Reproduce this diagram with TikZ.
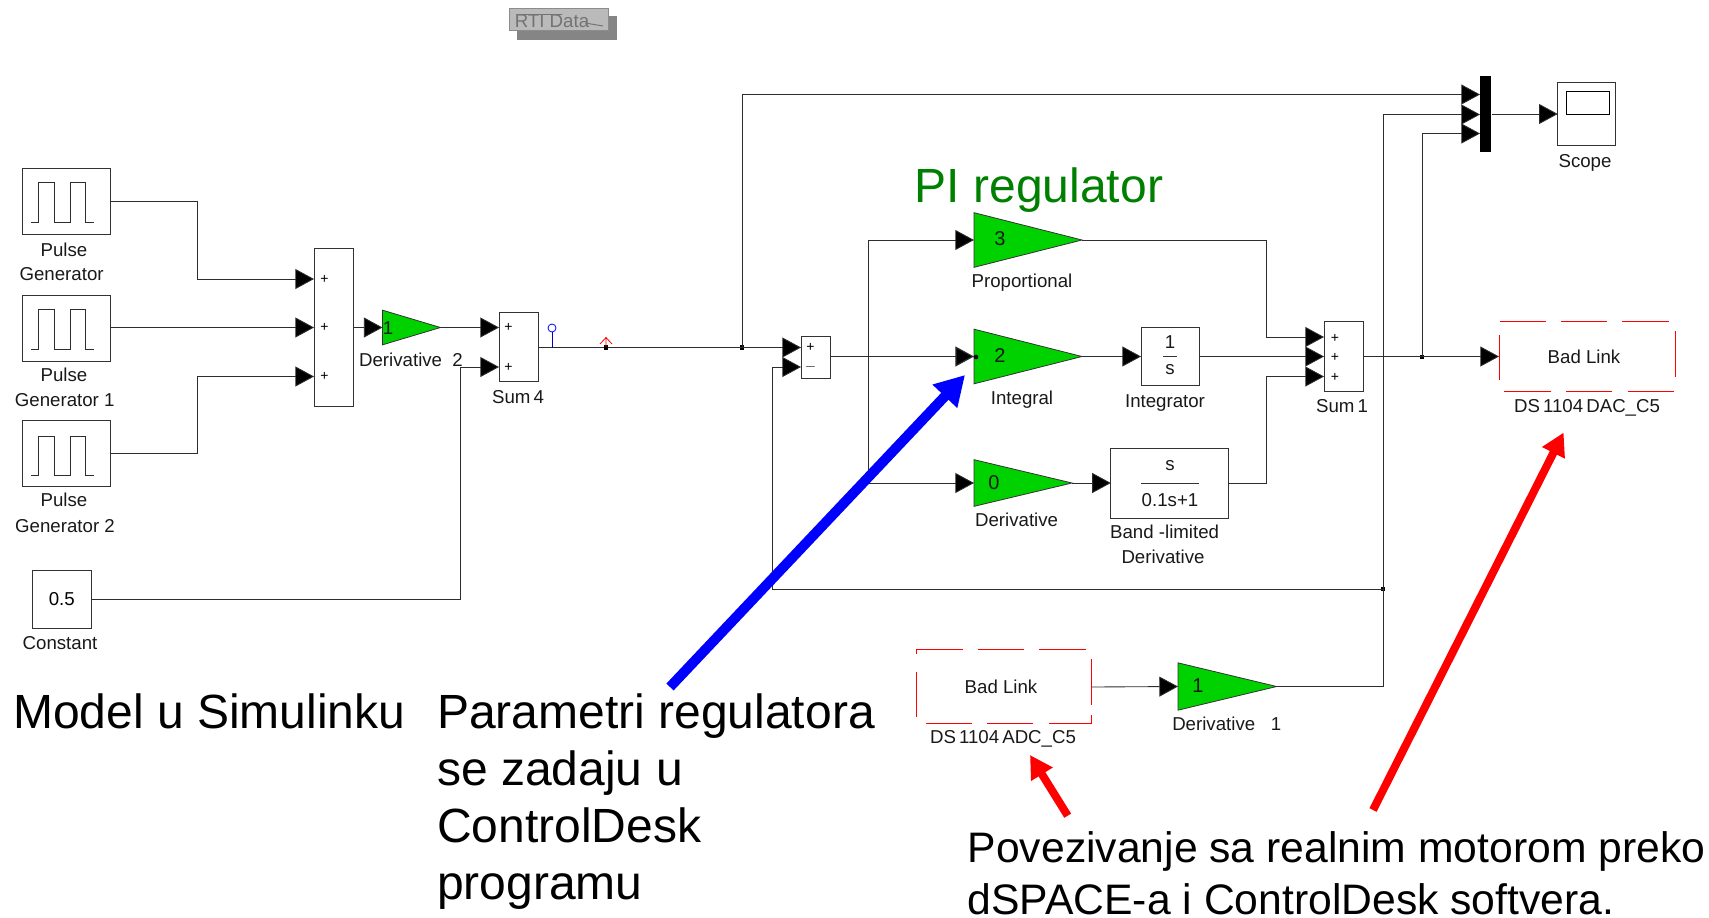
\documentclass[tikz,border=0pt]{standalone}
\usepackage{fontspec}
\setmainfont{Liberation Sans}
\usetikzlibrary{arrows.meta,shapes.geometric}
\definecolor{gaingreen}{RGB}{0,210,0}
\definecolor{pigreen}{RGB}{0,128,0}
\definecolor{wirec}{RGB}{45,45,45}
\tikzset{
  x=0.75pt,y=-0.75pt,
  wire/.style={draw=wirec,line width=0.65pt},
  wirearrow/.style={wire,-{Triangle[length=14pt,width=15pt,fill=black]}},
  block/.style={draw=black!80,line width=0.7pt,fill=white,rectangle,inner sep=0pt,outer sep=0pt,font=\fontsize{14}{14}\selectfont,text height=10pt,text depth=0pt},
  gain/.style={draw=black!80,line width=0.6pt,fill=gaingreen,isosceles triangle,isosceles triangle stretches,inner sep=0pt,outer sep=0pt,anchor=west,shape border rotate=0},
  lab/.style={font=\fontsize{14}{14}\selectfont,inner sep=0pt,text=black!90,text height=10pt,text depth=0pt},
  sign/.style={font=\fontsize{10.5}{10.5}\selectfont,inner sep=0pt},
  bigtext/.style={font=\fontsize{36}{36}\selectfont,inner sep=0pt,anchor=base west},
  capsmall/.style={font=\fontsize{32}{32}\selectfont,inner sep=0pt,anchor=base west},
  juncbox/.style={fill=black,inner sep=0pt,minimum size=3.6pt,rectangle},
  badedge/.style={draw=red,line width=0.75pt},
}
\begin{document}
\begin{tikzpicture}
\useasboundingbox (0,0) rectangle (1709,917);
% RTI Data
\node[fill=black!48,inner sep=0pt,minimum width=75pt,minimum height=18pt] (rtishadow) at (567,28) {};
\node[draw=black!45,fill=black!27,line width=0.7pt,inner sep=0pt,minimum width=74.5pt,minimum height=16.8pt] (rtibox) at (559,19.5) {};
\node[text=black!55,font=\fontsize{14}{14}\selectfont,inner sep=0pt,text height=10pt,text depth=0pt] (rti) at (552,20.5) {RTI Data};
\coordinate (rs1) at (516,14.5);
\coordinate (rs2) at (562,14.5);
\coordinate (rs3) at (585,23);
\coordinate (rs4) at (603,26);
\draw[black!55,line width=0.7pt] (rs1) -- (rs2) (rs3) -- (rs4);
% Pulse generators
\foreach \n/\yc/\wc in {pga/201/201,pgb/328/328,pgc/453/454.5}{
  \node[block,minimum width=66pt,minimum height=49.5pt] (\n) at (66,\yc) {};
  \draw[draw=wirec,line width=0.6pt] (31,\wc+21) -- (38.4,\wc+21) -- (38.4,\wc-18.5) -- (54.5,\wc-18.5) -- (54.5,\wc+21) -- (70.5,\wc+21) -- (70.5,\wc-18.5) -- (85.7,\wc-18.5) -- (85.7,\wc+21) -- (94,\wc+21);
}
\node[lab] (pgal1) at (64,250) {Pulse};
\node[lab] (pgal2) at (61.6,274) {Generator};
\node[lab] (pgbl1) at (64,375) {Pulse};
\node[lab] (pgbl2) at (64.7,400) {Generator 1};
\node[lab] (pgcl1) at (64,500) {Pulse};
\node[lab] (pgcl2) at (65,525.5) {Generator 2};
% Constant
\node[block,minimum width=44.25pt,minimum height=43.5pt] (const) at (61.8,599.3) {0.5};
\node[lab] (constl) at (60,642.7) {Constant};
% Sum 3 inputs
\node[block,minimum width=29.6pt,minimum height=119pt] (suma) at (334,327.5) {};
\coordinate (sa1) at (314,279);
\coordinate (sa2) at (314,327.5);
\coordinate (sa3) at (314,376.5);
\node[sign] (sap1) at (324.5,279) {+};
\node[sign] (sap2) at (324.5,327.5) {+};
\node[sign] (sap3) at (324.5,376) {+};
\coordinate (ba1) at (197,279);
\coordinate (ba3) at (197,376.5);
\draw[wire] (pga.east) -| (ba1);
\draw[wirearrow] (ba1) -- (sa1);
\draw[wirearrow] (pgb.east |- sa2) -- (sa2);
\draw[wire] (pgc.east) -| (ba3);
\draw[wirearrow] (ba3) -- (sa3);
% Derivative 2
\node[gain,minimum height=43.5pt,minimum width=26pt] (gd2) at (382.5,327.5) {};
\node[lab] (gd2v) at (388,327.5) {1};
\node[lab] (gd2l) at (411,360) {Derivative\ \ 2};
\draw[wirearrow] (suma.east |- gd2.west) -- (gd2.west);
% Sum 4
\node[block,minimum width=29.6pt,minimum height=52pt] (sumb) at (518.7,347) {};
\node[sign] (sbp1) at (508.5,327.5) {+};
\node[sign] (sbp2) at (508.5,367) {+};
\node[lab] (sumbl) at (518,397) {Sum\,4};
\coordinate (sb1) at (499,327.5);
\coordinate (sb2) at (499,367);
\draw[wirearrow] (gd2.apex) -- (sb1);
\coordinate (bc) at (460,367);
\draw[wire] (const.east) -| (bc);
\draw[wirearrow] (bc) -- (sb2);
% Line to difference
\node[block,minimum width=22pt,minimum height=31.5pt] (sumc) at (816,357) {};
\node[sign] (scp1) at (810.5,347) {+};
\node[sign] (scp2) at (810.5,367) {\(-\)};
\coordinate (sc1) at (801,347.5);
\coordinate (sc2) at (801,367);
\node[juncbox] (j1) at (742,347.5) {};
\draw[wirearrow] (sumb.east |- sc1) -- (sc1);
\node[juncbox] (jred) at (606,347.5) {};
\coordinate (blues) at (552,347.5);
\node[draw=blue,line width=0.6pt,circle,inner sep=0pt,minimum size=6pt] (bluec) at (552,328) {};
\draw[blue!80!black,line width=0.6pt] (blues) -- (bluec.south);
\coordinate (reds) at (606,347);
\coordinate (redt) at (606,337.5);
\coordinate (redl) at (600,344);
\coordinate (redr) at (612,344);
\draw[red,line width=0.6pt] (reds) -- (redt) (redl) -- (redt) -- (redr);
% Mux and scope
\node[fill=black,inner sep=0pt,minimum width=8.5pt,minimum height=56.5pt] (mux) at (1485.7,114) {};
\coordinate (m1) at (1480,94.5);
\coordinate (m2) at (1480,114.5);
\coordinate (m3) at (1480,133.5);
\coordinate (t1) at (742,94.5);
\draw[wire] (j1.center) -- (t1);
\draw[wirearrow] (t1) -- (m1);
\node[block,minimum width=43.5pt,minimum height=47pt] (scope) at (1586.7,114) {};
\node[draw=black,line width=0.7pt,inner sep=0pt,minimum width=31.7pt,minimum height=17.5pt] (scopei) at (1588,103) {};
\node[lab] (scopel) at (1585,160.7) {Scope};
\draw[wirearrow] (mux.east |- scope.west) -- (scope.west);
% PI regulator
\node[text=pigreen,font=\fontsize{36}{36}\selectfont,inner sep=0pt] (pit) at (1039,190) {PI regulator};
\node[gain,minimum height=81pt,minimum width=41pt] (gp) at (974,240) {};
\node[lab,font=\fontsize{15}{15}\selectfont] (gpv) at (1000,239) {3};
\node[lab] (gpl) at (1022,281) {Proportional};
\node[gain,minimum height=81pt,minimum width=41pt] (gi) at (974,356.5) {};
\node[lab,font=\fontsize{15}{15}\selectfont] (giv) at (1000,356) {2};
\node[lab] (gil) at (1022,397.5) {Integral};
\node[gain,minimum height=73.5pt,minimum width=35pt] (gdr) at (974,483) {};
\node[lab,font=\fontsize{15}{15}\selectfont] (gdrv) at (994,483) {0};
\node[lab] (gdrl) at (1016.6,520) {Derivative};
\node[block,minimum width=43.5pt,minimum height=44pt] (integ) at (1170,356.5) {};
\node[lab] (integn) at (1170,342) {1};
\node[lab] (integd) at (1170,368) {s};
\coordinate (ibl) at (1163,356.5);
\coordinate (ibr) at (1177,356.5);
\draw[black!80,line width=0.7pt] (ibl) -- (ibr);
\node[lab] (integl) at (1165,401) {Integrator};
\node[block,minimum width=88pt,minimum height=52.5pt] (band) at (1169.5,483) {};
\node[lab] (bandn) at (1170,464) {s};
\node[lab] (bandd) at (1170,500) {0.1s+1};
\coordinate (bbl) at (1141,483);
\coordinate (bbr) at (1199,483);
\draw[black!80,line width=0.7pt] (bbl) -- (bbr);
\node[lab] (bandl1) at (1164.6,531.5) {Band -limited};
\node[lab] (bandl2) at (1163,556.5) {Derivative};
\node[block,minimum width=29.6pt,minimum height=52.5pt] (sumd) at (1343.7,356.5) {};
\node[sign] (sdp1) at (1335,338) {+};
\node[sign] (sdp2) at (1335,357) {+};
\node[sign] (sdp3) at (1335,377) {+};
\node[lab] (sumdl) at (1342,406) {Sum\,1};
\coordinate (sd1) at (1324,337);
\coordinate (sd2) at (1324,356.5);
\coordinate (sd3) at (1324,376.5);
% PI wiring
\coordinate (v1) at (868.6,240);
\coordinate (v3) at (868.6,483);
\draw[wirearrow,line width=0.9pt] (sumc.east |- gi.west) -- (gi.west);
\draw[wire] (v3) -- (v1);
\draw[wirearrow] (v1) -- (gp.west);
\draw[wirearrow] (v3) -- (gdr.west);
\node[fill=black,circle,inner sep=0pt,minimum size=3.5pt] (jgi) at (976,357) {};
\draw[wirearrow] (gi.apex) -- (integ.west);
\draw[wirearrow] (gdr.apex) -- (band.west);
\coordinate (w1) at (1266,337);
\coordinate (w3) at (1266,376.5);
\draw[wire] (gp.apex) -| (w1);
\draw[wirearrow] (w1) -- (sd1);
\draw[wirearrow] (integ.east) -- (sd2);
\draw[wire] (band.east) -| (w3);
\draw[wirearrow] (w3) -- (sd3);
% Bad Link DAC
\coordinate (dacw) at (1499,356.5);
\node[lab] (dact) at (1584,356.5) {Bad Link};
\node[lab] (dacl) at (1587,406) {DS\,1104\,DAC\_C5};
\draw[badedge] (1500,321) -- (1546,321) (1561,321) -- (1607,321) (1622,321) -- (1668.5,321);
\draw[badedge] (1504,391) -- (1551,391) (1566,391) -- (1612,391) (1628,391) -- (1674,391);
\draw[badedge] (1499,334.5) -- (1499,380);
\draw[badedge] (1675,331) -- (1675,377);
\node[juncbox,minimum size=3pt] (j2) at (1422,356.5) {};
\draw[wirearrow] (sumd.east) -- (dacw);
\coordinate (m3b) at (1422,133.5);
\draw[wire] (j2.center) -- (m3b);
\draw[wirearrow] (m3b) -- (m3);
% Feedback
\coordinate (fb1) at (772,367);
\coordinate (fb2) at (772,589);
\node[juncbox,minimum size=3pt] (j3) at (1383,589) {};
\draw[wirearrow] (fb1) -- (sc2);
\draw[wire] (fb1) -- (fb2) -- (j3.center);
% Bad Link ADC
\node[lab] (adct) at (1001,687) {Bad Link};
\node[lab] (adcl) at (1003,736.7) {DS\,1104\,ADC\_C5};
\draw[badedge] (916,654) -- (916,649) -- (962.7,649) (978,649) -- (1024,649) (1039,649) -- (1085.7,649);
\draw[badedge] (925.7,723.3) -- (971.7,723.3) (987,723.3) -- (1033,723.3) (1049,723.3) -- (1091.7,723.3) -- (1091.7,715);
\draw[badedge] (916,671.7) -- (916,717);
\draw[badedge] (1091.7,659) -- (1091.7,705);
\coordinate (adce) at (1091.7,687);
\node[gain,minimum height=74pt,minimum width=35.5pt] (gd1) at (1178,686.5) {};
\node[lab,font=\fontsize{15}{15}\selectfont] (gd1v) at (1198,686) {1};
\node[lab] (gd1l) at (1226.7,723.7) {Derivative\ \ \ 1};
\draw[wirearrow] (adce) -- (gd1.west);
\coordinate (m2b) at (1383,114.5);
\coordinate (d1e) at (1383,686.5);
\draw[wire] (gd1.apex) -- (d1e) -- (m2b);
\draw[wirearrow] (m2b) -- (m2);
% Annotation arrows
\coordinate (ba) at (670,687);
\coordinate (bb) at (965,375);
\draw[draw=blue,fill=blue,line width=7.5pt,-{Triangle[length=22pt,width=24pt,fill=blue]}] (ba) -- (bb);
\coordinate (ra) at (1373,810);
\coordinate (rb) at (1563.6,432.6);
\draw[red,line width=6pt,-{Triangle[length=17pt,width=18pt]}] (ra) -- (rb);
\coordinate (sa) at (1067.7,815.7);
\coordinate (sb) at (1030,755);
\draw[red,line width=6pt,-{Triangle[length=17pt,width=18pt]}] (sa) -- (sb);
% Captions
\node[bigtext] (cap1) at (13,728) {Model u Simulinku};
\node[bigtext] (cap2a) at (437,728.3) {Parametri regulatora};
\node[bigtext] (cap2b) at (437,785) {se zadaju u};
\node[bigtext] (cap2c) at (437,842.7) {ControlDesk};
\node[bigtext] (cap2d) at (437,899.3) {programu};
\node[capsmall] (cap3a) at (967.5,862.9) {Povezivanje sa realnim motorom preko};
\node[capsmall] (cap3b) at (967.5,914.4) {dSPACE-a i ControlDesk softvera.};
\end{tikzpicture}
\end{document}
